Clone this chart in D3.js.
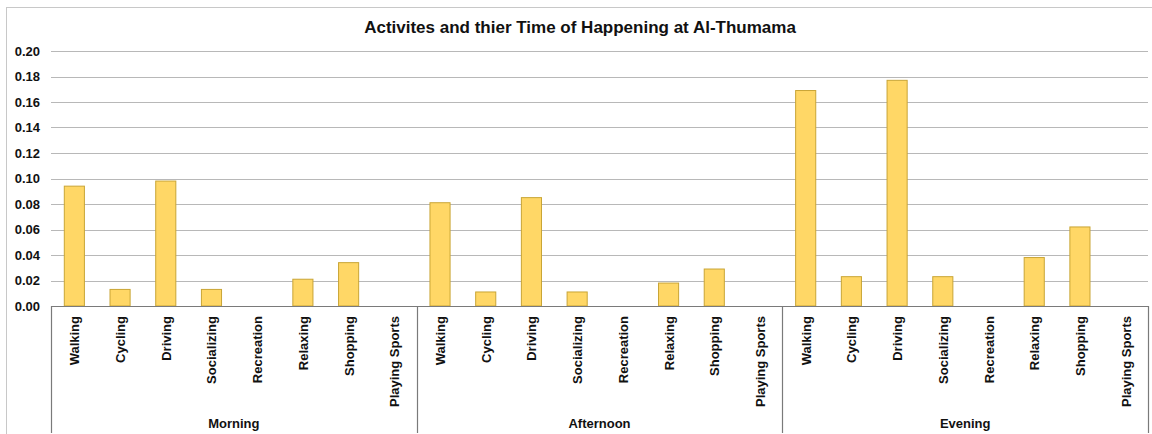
<!DOCTYPE html>
<html>
<head>
<meta charset="utf-8">
<script src="https://cdn.jsdelivr.net/npm/d3@7"></script>
<style>
  html, body { margin: 0; padding: 0; background: #fff; }
  svg { display: block; font-family: "Liberation Sans", Arial, sans-serif; }
</style>
</head>
<body>
<svg id="chart" width="1152" height="434"></svg>
<script>
// Share of activities by time of day at Al-Thumama
const periods = ["Morning", "Afternoon", "Evening"];
const activities = ["Walking", "Cycling", "Driving", "Socializing", "Recreation", "Relaxing", "Shopping", "Playing Sports"];
const morningValues   = [0.094, 0.013, 0.098, 0.013, 0, 0.021, 0.034, 0];
const afternoonValues = [0.081, 0.011, 0.085, 0.011, 0, 0.018, 0.029, 0];
const eveningValues   = [0.169, 0.023, 0.177, 0.023, 0, 0.038, 0.062, 0];
const yTicks = [0, 0.02, 0.04, 0.06, 0.08, 0.10, 0.12, 0.14, 0.16, 0.18, 0.20];
const chartTitle = "Activites and thier Time of Happening at Al-Thumama";

const seriesByPeriod = [morningValues, afternoonValues, eveningValues];
const rows = [];
periods.forEach((p, pi) => {
  activities.forEach((a, ai) => {
    rows.push({ key: p + "|" + a, period: p, activity: a, value: seriesByPeriod[pi][ai] });
  });
});

const svg = d3.select("#chart");
const W = 1152, H = 434;
const plotLeft = 51, plotRight = 1148, plotTop = 51, plotBottom = 306, axisFoot = 433;
const labelSize = 13;

// outer frame
svg.append("rect")
  .attr("x", 6.5).attr("y", 7.5)
  .attr("width", W + 10).attr("height", H + 10)
  .attr("fill", "none").attr("stroke", "#c8c8c8").attr("stroke-width", 1);

const x = d3.scaleBand().domain(rows.map(d => d.key)).range([plotLeft, plotRight]).paddingInner(0.56).paddingOuter(0.28);
const y = d3.scaleLinear().domain([0, 0.20]).range([plotBottom, plotTop]);

// gridlines
svg.append("g")
  .selectAll("line")
  .data(yTicks.filter(t => t > 0))
  .join("line")
  .attr("x1", plotLeft).attr("x2", plotRight)
  .attr("y1", d => Math.round(y(d)) + 0.5).attr("y2", d => Math.round(y(d)) + 0.5)
  .attr("stroke", "#b8b8b8").attr("stroke-width", 1.2);

// y axis labels
const yAxis = d3.axisLeft(y).tickValues(yTicks).tickFormat(d3.format(".2f")).tickSize(0).tickPadding(11);
const yg = svg.append("g").attr("transform", `translate(${plotLeft},0)`).call(yAxis);
yg.select(".domain").remove();
yg.selectAll("text")
  .attr("font-size", labelSize).attr("font-weight", "bold").attr("fill", "#111")
  .attr("font-family", "'Liberation Sans', Arial, sans-serif");

// bars
svg.append("g")
  .selectAll("rect")
  .data(rows)
  .join("rect")
  .attr("x", d => x(d.key) + 0.5)
  .attr("y", d => y(d.value))
  .attr("width", x.bandwidth())
  .attr("height", d => y(0) - y(d.value))
  .attr("fill", "#ffd766")
  .attr("stroke", "#c9a536")
  .attr("stroke-width", 1)
  .attr("display", d => d.value > 0 ? null : "none");

// baseline
svg.append("line")
  .attr("x1", plotLeft).attr("x2", plotRight)
  .attr("y1", plotBottom + 0.5).attr("y2", plotBottom + 0.5)
  .attr("stroke", "#7a7a7a").attr("stroke-width", 1.2);

// group separators
const groupWidth = (plotRight - plotLeft) / periods.length;
const sepX = d3.range(periods.length + 1).map(i => plotLeft + i * groupWidth);
svg.append("g")
  .selectAll("line")
  .data(sepX)
  .join("line")
  .attr("x1", d => Math.round(d) + 0.5).attr("x2", d => Math.round(d) + 0.5)
  .attr("y1", plotBottom).attr("y2", axisFoot)
  .attr("stroke", "#7a7a7a").attr("stroke-width", 1.2);

// activity labels (rotated)
svg.append("g")
  .selectAll("text")
  .data(rows)
  .join("text")
  .attr("transform", d => `translate(${x(d.key) + x.bandwidth() / 2 + 5.5},316) rotate(-90)`)
  .attr("text-anchor", "end")
  .attr("font-size", labelSize).attr("font-weight", "bold").attr("fill", "#111")
  .text(d => d.activity);

// period labels
svg.append("g")
  .selectAll("text")
  .data(periods)
  .join("text")
  .attr("x", (d, i) => plotLeft + (i + 0.5) * groupWidth)
  .attr("y", 428)
  .attr("text-anchor", "middle")
  .attr("font-size", labelSize).attr("font-weight", "bold").attr("fill", "#111")
  .text(d => d);

// title
svg.append("text")
  .attr("x", 580).attr("y", 33)
  .attr("text-anchor", "middle")
  .attr("font-size", 17).attr("font-weight", "bold").attr("fill", "#111")
  .text(chartTitle);
</script>
</body>
</html>
